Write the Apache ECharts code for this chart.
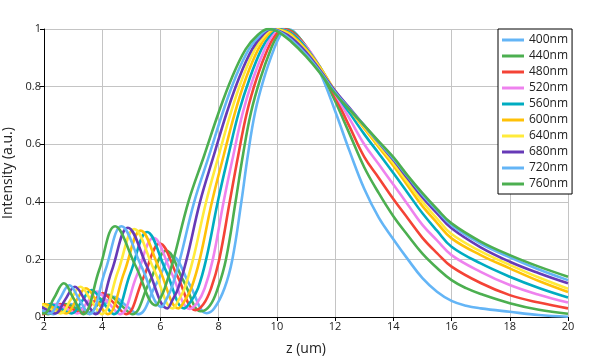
<!DOCTYPE html>
<html>
<head>
<meta charset="utf-8">
<script src="https://cdn.jsdelivr.net/npm/echarts@6/dist/echarts.min.js"></script>
<style>
  html, body { margin: 0; padding: 0; background: #fff; }
  #chart { width: 598px; height: 359px; }
</style>
</head>
<body>
<div id="chart"></div>
<script type="text/javascript">
// wavelength names and colours of the curves
var names = ['400nm', '440nm', '480nm', '520nm', '560nm', '600nm', '640nm', '680nm', '720nm', '760nm'];
var colors = ['#64b5f6', '#4caf50', '#f44336', '#ee82ee', '#00acc1', '#ffc107', '#ffeb3b', '#673ab7', '#64b5f6', '#4caf50'];

var xTicks = [2, 4, 6, 8, 10, 12, 14, 16, 18, 20];
var yTicks = [0, 0.2, 0.4, 0.6, 0.8, 1];

// [z (um), intensity]
var s400 = [[1.78,0.03],[2.05,0.02],[2.32,0.01],[2.62,0.028],[2.92,0.045],[3.315,0.029],[3.71,0.012],[4.05,0.041],[4.39,0.07],[4.815,0.04],[5.24,0.01],[5.83,0.11],[6.42,0.21],[7.005,0.112],[7.59,0.013],[7.85,0.03],[8.2,0.1],[8.47,0.2],[8.78,0.4],[9,0.56],[9.25,0.71],[9.56,0.83],[9.9,0.93],[10.12,0.98],[10.3,1],[10.6,0.99],[11,0.935],[11.5,0.845],[12,0.715],[12.5,0.575],[13,0.445],[13.5,0.345],[14,0.27],[14.5,0.2],[15,0.135],[15.5,0.088],[16,0.056],[16.5,0.039],[17,0.03],[18,0.018],[19,0.007],[20,0.001]];
var s440 = [[1.6,0.03],[1.87,0.02],[2.14,0.01],[2.44,0.028],[2.74,0.045],[3.13,0.029],[3.52,0.012],[3.86,0.045],[4.2,0.077],[4.615,0.044],[5.03,0.01],[5.615,0.12],[6.2,0.23],[6.795,0.125],[7.39,0.02],[7.7,0.04],[7.97,0.1],[8.25,0.2],[8.58,0.4],[8.83,0.56],[9.11,0.71],[9.44,0.83],[9.79,0.93],[10.03,0.98],[10.23,1],[10.55,0.99],[11,0.94],[11.5,0.855],[12,0.75],[12.5,0.635],[13,0.52],[13.5,0.43],[14,0.35],[14.5,0.283],[15,0.22],[15.5,0.17],[16,0.128],[16.5,0.1],[17,0.08],[18,0.048],[19,0.025],[20,0.011]];
var s480 = [[1.66,0.028],[1.96,0.01],[2.26,0.028],[2.56,0.045],[2.945,0.029],[3.33,0.012],[3.67,0.048],[4.01,0.083],[4.415,0.047],[4.82,0.01],[5.4,0.133],[5.98,0.255],[6.59,0.14],[7.2,0.024],[7.48,0.045],[7.74,0.1],[8.02,0.2],[8.38,0.4],[8.67,0.56],[8.97,0.71],[9.31,0.83],[9.68,0.93],[9.95,0.98],[10.17,1],[10.5,0.99],[11,0.94],[11.5,0.86],[12,0.765],[12.5,0.66],[13,0.556],[13.5,0.483],[14,0.41],[14.5,0.342],[15,0.275],[15.5,0.222],[16,0.175],[17,0.118],[18,0.076],[19,0.05],[20,0.03]];
var s520 = [[1.78,0.01],[2.08,0.028],[2.38,0.045],[2.76,0.029],[3.14,0.012],[3.48,0.05],[3.82,0.088],[4.215,0.049],[4.61,0.01],[5.185,0.143],[5.76,0.275],[6.385,0.152],[7.01,0.028],[7.27,0.05],[7.52,0.1],[7.8,0.2],[8.17,0.4],[8.5,0.56],[8.83,0.71],[9.19,0.83],[9.58,0.93],[9.86,0.98],[10.1,1],[10.5,0.985],[11,0.94],[11.5,0.865],[12,0.775],[12.5,0.688],[13,0.6],[13.5,0.53],[14,0.46],[14.5,0.39],[15,0.32],[15.5,0.266],[16,0.215],[17,0.157],[18,0.111],[19,0.077],[20,0.05]];
var s560 = [[1.6,0.01],[1.9,0.028],[2.2,0.045],[2.575,0.029],[2.95,0.012],[3.29,0.053],[3.63,0.094],[4.015,0.052],[4.4,0.01],[4.97,0.153],[5.54,0.295],[6.18,0.163],[6.82,0.03],[7.05,0.055],[7.29,0.1],[7.57,0.2],[7.97,0.4],[8.33,0.56],[8.69,0.71],[9.07,0.83],[9.47,0.93],[9.78,0.98],[10.03,1],[10.5,0.985],[11,0.935],[11.5,0.865],[12,0.78],[12.5,0.708],[13,0.635],[13.5,0.568],[14,0.5],[14.5,0.43],[15,0.36],[15.5,0.3],[16,0.244],[17,0.186],[18,0.14],[19,0.101],[20,0.068]];
var s600 = [[1.42,0.01],[1.72,0.028],[2.02,0.045],[2.39,0.029],[2.76,0.012],[3.1,0.056],[3.44,0.1],[3.815,0.055],[4.19,0.01],[4.755,0.155],[5.32,0.3],[5.97,0.165],[6.62,0.03],[6.84,0.058],[7.06,0.1],[7.35,0.2],[7.77,0.4],[8.17,0.56],[8.56,0.71],[8.94,0.83],[9.36,0.93],[9.69,0.98],[9.97,1],[10.25,0.993],[10.5,0.98],[11,0.93],[11.5,0.865],[12,0.785],[12.5,0.72],[13,0.655],[13.5,0.59],[14,0.525],[14.5,0.455],[15,0.385],[15.5,0.327],[16,0.273],[17,0.215],[18,0.169],[19,0.125],[20,0.087]];
var s640 = [[1.5,0.025],[1.84,0.045],[2.205,0.029],[2.57,0.012],[2.91,0.059],[3.25,0.105],[3.615,0.058],[3.98,0.01],[4.54,0.158],[5.1,0.305],[5.765,0.168],[6.43,0.03],[6.63,0.06],[6.83,0.1],[7.12,0.2],[7.57,0.4],[8,0.56],[8.42,0.71],[8.82,0.83],[9.25,0.93],[9.61,0.98],[9.9,1],[10.2,0.992],[10.5,0.975],[11,0.925],[11.5,0.86],[12,0.785],[12.5,0.722],[13,0.66],[13.5,0.597],[14,0.535],[14.5,0.467],[15,0.4],[15.5,0.342],[16,0.288],[17,0.228],[18,0.181],[19,0.137],[20,0.098]];
var s680 = [[1.3,0.025],[1.66,0.045],[2.02,0.029],[2.38,0.012],[2.72,0.059],[3.06,0.105],[3.415,0.058],[3.77,0.01],[4.325,0.16],[4.88,0.31],[5.56,0.17],[6.24,0.03],[6.42,0.06],[6.61,0.1],[6.9,0.2],[7.36,0.4],[7.83,0.56],[8.28,0.71],[8.7,0.83],[9.15,0.93],[9.52,0.98],[9.83,1],[10.15,0.99],[10.5,0.97],[11,0.92],[11.5,0.855],[12,0.785],[12.5,0.725],[13,0.665],[13.5,0.605],[14,0.545],[14.5,0.48],[15,0.415],[15.5,0.36],[16,0.308],[17,0.242],[18,0.192],[19,0.152],[20,0.117]];
var s720 = [[1.48,0.045],[1.835,0.029],[2.19,0.012],[2.53,0.061],[2.87,0.11],[3.215,0.06],[3.56,0.01],[4.11,0.163],[4.66,0.315],[5.35,0.175],[6.04,0.035],[6.21,0.063],[6.38,0.1],[6.67,0.2],[7.16,0.4],[7.67,0.56],[8.14,0.71],[8.57,0.83],[9.04,0.93],[9.44,0.98],[9.77,1],[10.1,0.99],[10.5,0.962],[11,0.912],[11.5,0.85],[12,0.78],[12.5,0.722],[13,0.665],[13.5,0.607],[14,0.55],[14.5,0.487],[15,0.425],[15.5,0.37],[16,0.319],[17,0.255],[18,0.207],[19,0.165],[20,0.128]];
var s760 = [[1.3,0.045],[1.65,0.029],[2,0.012],[2.34,0.065],[2.68,0.117],[3.015,0.064],[3.35,0.01],[3.895,0.163],[4.44,0.315],[5.145,0.178],[5.85,0.04],[6,0.065],[6.15,0.1],[6.45,0.2],[6.96,0.4],[7.5,0.56],[8,0.71],[8.45,0.83],[8.93,0.93],[9.35,0.98],[9.7,1],[10,0.993],[10.5,0.955],[11,0.905],[11.5,0.845],[12,0.775],[12.5,0.72],[13,0.665],[13.5,0.61],[14,0.555],[14.5,0.49],[15,0.43],[15.5,0.375],[16,0.325],[17,0.262],[18,0.215],[19,0.175],[20,0.14]];

var allData = [s400, s440, s480, s520, s560, s600, s640, s680, s720, s760];

var font = "'Open Sans', 'Noto Sans', sans-serif";
var myChart = echarts.init(document.getElementById('chart'), null, {renderer: 'canvas'});

var series = [];
for (var i = 0; i < names.length; i++) {
	series.push({
		name: names[i],
		type: 'line',
		data: allData[i],
		smooth: 0.4,
		symbol: 'none',
		clip: true,
		lineStyle: {width: 2.6, color: colors[i]},
		itemStyle: {color: colors[i]}
	});
}

var option = {
	animation: false,
	grid: {left: 44, right: 30, top: 29, bottom: 42, containLabel: false, outerBoundsMode: 'none'},
	legend: {
		orient: 'vertical',
		left: 498,
		top: 29,
		data: names,
		icon: 'rect',
		itemWidth: 22,
		itemHeight: 3,
		itemGap: 2,
		padding: [4, 4, 3, 4],
		backgroundColor: '#fff',
		borderColor: '#000',
		borderWidth: 1,
		borderRadius: 0,
		textStyle: {fontFamily: font, fontSize: 12, color: '#222', lineHeight: 14}
	},
	xAxis: {
		type: 'value',
		min: xTicks[0],
		max: xTicks[xTicks.length - 1],
		interval: 2,
		name: 'z (um)',
		nameLocation: 'middle',
		nameGap: 25,
		nameTextStyle: {fontFamily: font, fontSize: 14, color: '#222'},
		axisLine: {show: true, lineStyle: {color: '#000', width: 1}},
		axisTick: {show: true, length: 4, lineStyle: {color: '#000'}},
		axisLabel: {fontFamily: font, fontSize: 11, color: '#222', margin: 4},
		splitLine: {show: true, lineStyle: {color: '#c4c4c4', width: 1}}
	},
	yAxis: {
		type: 'value',
		min: yTicks[0],
		max: yTicks[yTicks.length - 1],
		interval: 0.2,
		name: 'Intensity (a.u.)',
		nameLocation: 'middle',
		nameGap: 29,
		nameTextStyle: {fontFamily: font, fontSize: 14, color: '#222'},
		axisLine: {show: true, lineStyle: {color: '#000', width: 1}},
		axisTick: {show: true, length: 4, lineStyle: {color: '#000'}},
		axisLabel: {fontFamily: font, fontSize: 11, color: '#222', margin: 3},
		splitLine: {show: true, lineStyle: {color: '#c4c4c4', width: 1}}
	},
	series: series
};

myChart.setOption(option);
</script>
</body>
</html>
